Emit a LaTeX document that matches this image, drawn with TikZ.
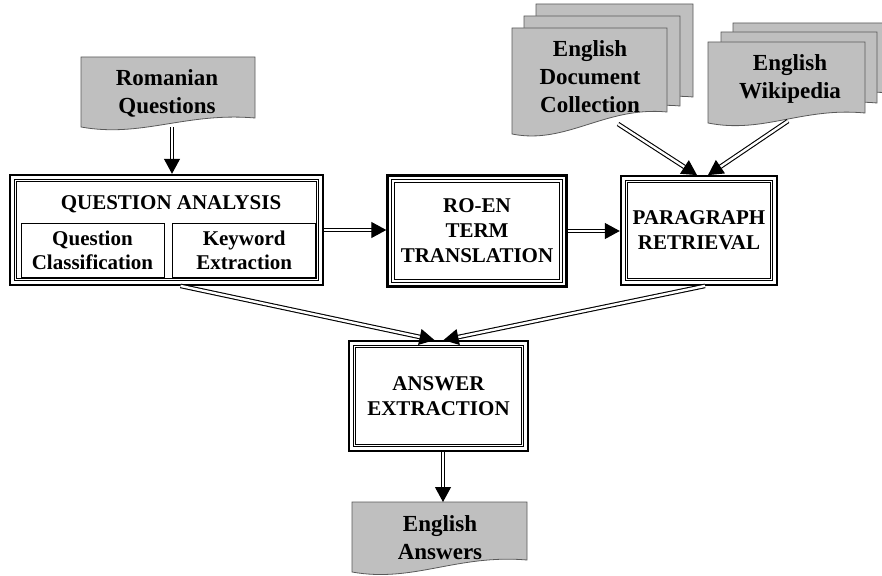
\documentclass[tikz,border=0pt]{standalone}
\usepackage{fontspec}
\setmainfont{Liberation Serif}
\usetikzlibrary{arrows.meta,positioning}

\tikzset{
  docfill/.style={draw=black!65, fill=black!25, line width=0.8pt},
  doctext/.style={font=\bfseries\fontsize{23}{28}\selectfont, align=center},
  procbox/.style={draw, line width=0.8pt, double, double distance=1.6pt, inner sep=0pt, align=center, font=\bfseries\fontsize{21}{25}\selectfont},
  subbox/.style={draw, line width=0.7pt, inner sep=0pt, minimum width=143pt, minimum height=54pt, align=center, font=\bfseries\fontsize{21}{24}\selectfont},
  frame/.style={line width=2.6pt},
  flow/.style={double, line width=1.1pt, double distance=2.4pt, -{Triangle[length=15pt,width=16pt]}},
}
% document page: left x, top y, right x, bottom y left, bottom y right
\newcommand\docpage[5]{%
  \pgfmathsetmacro\dpa{#1+0.6*(#3-#1)}\pgfmathsetmacro\dpb{#1+0.35*(#3-#1)}%
  \draw[docfill] (#1,#2) -- (#3,#2) -- (#3,#5) .. controls (\dpa,#5-6) and (\dpb,#4+11) .. (#1,#4) -- cycle;}

\begin{document}
\begin{tikzpicture}[x=1pt, y=-1pt]
  \useasboundingbox (0,0) rectangle (882,575);
  % document stacks
  \docpage{81}{57}{255}{127}{118}
  \foreach \xa/\ya/\xb/\yl/\yr in {536/4/693/115/97, 524/16/680/124/106, 512/28/667/134/112} {\docpage{\xa}{\ya}{\xb}{\yl}{\yr}}
  \foreach \xa/\ya/\xb/\yl/\yr in {733/23/890/108/93, 721/32/877/115/103, 708/42/865/123/113} {\docpage{\xa}{\ya}{\xb}{\yl}{\yr}}
  \docpage{352}{502}{527}{572}{560}
  \node[doctext] (rq) at (167,93) {Romanian\\Questions};
  \node[doctext] (dc) at (590,77) {English\\Document\\Collection};
  \node[doctext] (wk) at (790,79) {English\\Wikipedia};
  \node[doctext] (ea) at (440,538) {English\\Answers};
  \coordinate (rq-b) at (172,127); \coordinate (dc-b) at (618,124);
  \coordinate (wk-b) at (788,121); \coordinate (ea-t) at (443,502);
  % processing boxes
  \node[procbox, minimum width=302pt, minimum height=99pt] (qa) at (166.5,230) {};
  \node[font=\bfseries\fontsize{21}{25}\selectfont] (qa-t) at (171,204) {QUESTION ANALYSIS};
  \node[subbox] (qc) at (92.5,250) {Question\\Classification};
  \node[subbox, right=8pt of qc] (ke) {Keyword\\Extraction};
  \node[procbox, minimum width=168pt, minimum height=100pt] (tr) at (477,231) {RO-EN\\TERM\\TRANSLATION};
  \node[procbox, minimum width=145pt, minimum height=98pt] (pr) at (699,230.5) {PARAGRAPH\\RETRIEVAL};
  \node[procbox, minimum width=168pt, minimum height=99pt] (ae) at (438.5,396) {ANSWER\\EXTRACTION};
  \foreach \n in {qa,tr,pr,ae}
    \draw[frame] ([shift={(-5,-5)}]\n.north west) rectangle ([shift={(5,5)}]\n.south east);
  % arrows
  \draw[flow, shorten >=6.3pt] (rq-b) -- (rq-b |- qa.north);
  \draw[flow, shorten <=6.3pt, shorten >=6.3pt] (qa.east) -- (qa.east -| tr.west);
  \draw[flow, shorten <=6.3pt, shorten >=6.3pt] (tr.east) -- (tr.east -| pr.west);
  \draw[flow] ([shift={(14,6)}]qa.south) -- ([shift={(-4,-6)}]ae.north);
  \draw[flow] ([shift={(6,6)}]pr.south) -- ([shift={(5,-6)}]ae.north);
  \draw[flow] (dc-b) -- ([shift={(-2,-6)}]pr.north);
  \draw[flow] (wk-b) -- ([shift={(9,-6)}]pr.north);
  \draw[flow, shorten <=6.3pt] (ea-t |- ae.south) -- (ea-t);
\end{tikzpicture}
\end{document}
